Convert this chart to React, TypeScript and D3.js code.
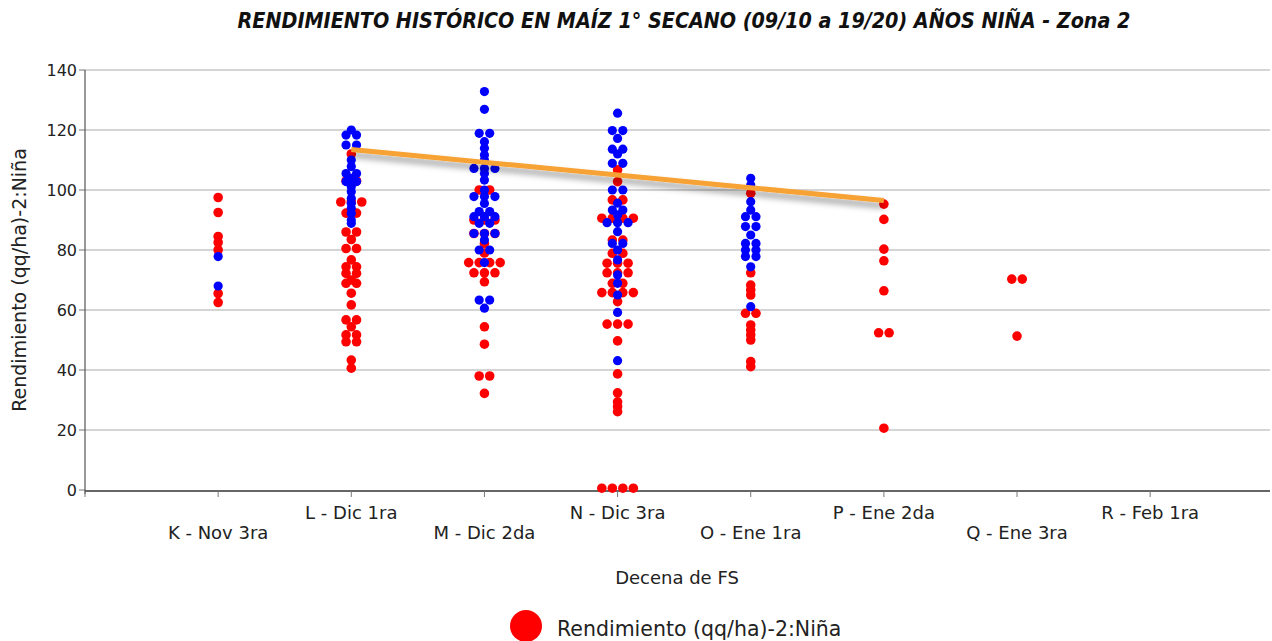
import { useMemo } from "react";
import * as d3 from "d3";

const WIDTH = 1272;
const HEIGHT = 641;
const MARGIN = { top: 70, right: 2, bottom: 151, left: 85 };

const CATEGORIES = [
  "K - Nov 3ra",
  "L - Dic 1ra",
  "M - Dic 2da",
  "N - Dic 3ra",
  "O - Ene 1ra",
  "P - Ene 2da",
  "Q - Ene 3ra",
  "R - Feb 1ra",
];

const Y_TICKS = [0, 20, 40, 60, 80, 100, 120, 140];

// red series (the one shown in the legend)
const RED_K = [97.5, 92.5, 84.5, 82.5, 80, 65.5, 62.5];
const RED_L = [
  112, 103, 103, 96, 96, 96, 92.3, 92.3, 86, 86, 83.5, 80.5, 80.5, 76.7, 74.4, 74.4, 72.2, 72.2, 70,
  68.9, 68.9, 65.6, 61.7, 56.7, 56.7, 54.4, 51.7, 51.7, 49.4, 49.4, 43.3, 40.6,
];
const RED_M = [
  100, 100, 90, 90, 90, 85.5, 85.5, 85.5, 82.2, 79, 75.8, 75.8, 75.8, 75.8, 72.4, 72.4, 72.4, 69.4,
  54.4, 48.6, 38, 38, 32.2,
];
const RED_N = [
  106.7, 102.8, 96.7, 96.7, 90.6, 90.6, 90.6, 90.6, 83.3, 83.3, 78.9, 78.9, 75.6, 75.6, 75.6, 72.4,
  72.4, 72.4, 68.9, 68.9, 65.8, 65.8, 65.8, 65.8, 62.8, 55.3, 55.3, 55.3, 49.7, 38.7, 32.4, 29.4,
  27.8, 26.1, 0.6, 0.6, 0.6, 0.6,
];
const RED_O = [98.9, 72.4, 68.3, 66.7, 65, 58.9, 58.9, 55, 53.3, 51.7, 50, 42.8, 41.1];
const RED_P = [95.3, 90.2, 80.3, 76.4, 66.4, 52.4, 52.4, 20.6];
const RED_Q = [70.3, 70.3, 51.3];
const RED_R: number[] = [];

// blue series
const BLUE_K = [77.8, 68];
const BLUE_L = [
  120, 118.3, 118.3, 115, 115, 110, 107.8, 105.5, 105.5, 103.9, 102.8, 102.8, 101.1, 99.4, 97.2, 95.6,
  93.9, 92.2, 90, 88.9,
];
const BLUE_M = [
  132.8, 126.9, 118.9, 118.9, 116.1, 113.9, 111.7, 110, 107.2, 107.2, 107.2, 105.5, 103.3, 100, 97.8,
  97.8, 97.8, 95.5, 92.8, 92.8, 91.1, 91.1, 91.1, 88.9, 88.9, 85.5, 85.5, 85.5, 83.3, 80, 80, 75.8,
  63.3, 63.3, 60.6,
];
const BLUE_N = [
  125.6, 119.8, 119.8, 117.2, 113.6, 113.6, 112, 108.9, 108.9, 100, 100, 95.6, 93.3, 93.3, 91.7, 89.1,
  89.1, 89.1, 86.1, 82.2, 82.2, 80, 76.7, 71.7, 68.9, 65, 59.2, 43.1,
];
const BLUE_O = [
  103.9, 101.7, 96.1, 93.3, 91.1, 91.1, 87.8, 87.8, 85, 82.2, 82.2, 80, 80, 77.8, 77.8, 74.4, 61.1,
];

const RED_SERIES = [RED_K, RED_L, RED_M, RED_N, RED_O, RED_P, RED_Q, RED_R];
const BLUE_SERIES = [BLUE_K, BLUE_L, BLUE_M, BLUE_N, BLUE_O, [], [], []];

// trend line end points (category index 1-based, value)
const TREND_CATS = [2, 6];
const TREND_VALUES = [113.5, 96.5];

const FONT = "'DejaVu Sans', sans-serif";
const RED = "#ff0000";
const BLUE = "#0000ff";
const SPREAD = 10.5;

type Dot = { cat: number; value: number; offset: number };

// identical values in a category get spread sideways so they don't overlap
function toDots(series: number[][]): Dot[] {
  const out: Dot[] = [];
  series.forEach((vals, i) => {
    const groups = d3.group(vals, (v: number) => v);
    groups.forEach((arr: number[], v: number) => {
      const n = arr.length;
      arr.forEach((_, j) => {
        out.push({ cat: i + 1, value: v, offset: (j - (n - 1) / 2) * SPREAD });
      });
    });
  });
  return out;
}

export default function App() {
  const innerW = WIDTH - MARGIN.left - MARGIN.right;
  const innerH = HEIGHT - MARGIN.top - MARGIN.bottom;

  const x = d3.scaleLinear().domain([0, 8.9]).range([MARGIN.left, MARGIN.left + innerW]);
  const y = d3.scaleLinear().domain([0, 140]).range([MARGIN.top + innerH, MARGIN.top]);

  const redDots = useMemo(() => toDots(RED_SERIES), []);
  const blueDots = useMemo(() => toDots(BLUE_SERIES), []);

  const trend = d3
    .line<number>()
    .x((_, i) => x(TREND_CATS[i]))
    .y((d) => y(d));

  const x0 = x(0);
  const x1 = x(8.9);
  const yBase = y(0);

  return (
    <svg
      width={WIDTH}
      height={HEIGHT}
      style={{ position: "absolute", left: 0, top: 0, background: "#fff" }}
      fontFamily={FONT}
    >
      <defs>
        <filter id="shadow" x="-10%" y="-200%" width="120%" height="500%">
          <feDropShadow dx="0" dy="5" stdDeviation="3" floodColor="#000" floodOpacity="0.4" />
        </filter>
      </defs>

      <text
        x={684}
        y={28}
        textAnchor="middle"
        fontFamily="'DejaVu Sans Condensed', 'DejaVu Sans', sans-serif"
        fontWeight="bold"
        fontStyle="italic"
        fontSize={21.3}
        fill="#111"
      >
        RENDIMIENTO HISTÓRICO EN MAÍZ 1° SECANO (09/10 a 19/20) AÑOS NIÑA - Zona 2
      </text>

      {/* gridlines + y ticks */}
      {Y_TICKS.map((t) => (
        <g key={t}>
          {t > 0 && <line x1={x0} x2={x1} y1={y(t)} y2={y(t)} stroke="#ababab" strokeWidth={1} />}
          <line x1={x0 - 6} x2={x0} y1={y(t)} y2={y(t)} stroke="#777" strokeWidth={1} />
          <text x={x0 - 8} y={y(t) + 6} textAnchor="end" fontSize={16} fill="#222">
            {t}
          </text>
        </g>
      ))}

      {/* axes */}
      <line x1={x0} x2={x0} y1={y(140)} y2={yBase + 4} stroke="#555" strokeWidth={1.2} />
      <line x1={x0} x2={x1} y1={yBase + 1} y2={yBase + 1} stroke="#333" strokeWidth={1.5} />
      {d3.range(0, 9).map((i: number) => (
        <line key={i} x1={x(i)} x2={x(i)} y1={yBase + 1} y2={yBase + 7} stroke="#777" strokeWidth={1} />
      ))}
      {CATEGORIES.map((c, i) => (
        <text
          key={c}
          x={x(i + 1)}
          y={i % 2 === 0 ? 539 : 519}
          textAnchor="middle"
          fontSize={18}
          fill="#222"
        >
          {c}
        </text>
      ))}

      <text x={677} y={584} textAnchor="middle" fontSize={18} fill="#222">
        Decena de FS
      </text>
      <text
        transform={`translate(26,${y(70)}) rotate(-90)`}
        textAnchor="middle"
        fontSize={19}
        fill="#222"
      >
        Rendimiento (qq/ha)-2:Niña
      </text>

      {/* points */}
      {redDots.map((d, i) => (
        <circle key={`r${i}`} cx={x(d.cat) + d.offset} cy={y(d.value)} r={4.8} fill={RED} />
      ))}
      {blueDots.map((d, i) => (
        <circle key={`b${i}`} cx={x(d.cat) + d.offset} cy={y(d.value)} r={4.6} fill={BLUE} />
      ))}

      {/* trend */}
      <path
        d={trend(TREND_VALUES) ?? ""}
        fill="none"
        stroke="#f7a234"
        strokeWidth={5}
        filter="url(#shadow)"
      />

      {/* legend */}
      <circle cx={526} cy={626} r={16} fill={RED} />
      <text x={557} y={636} fontSize={20.5} fill="#222">
        Rendimiento (qq/ha)-2:Niña
      </text>
    </svg>
  );
}
